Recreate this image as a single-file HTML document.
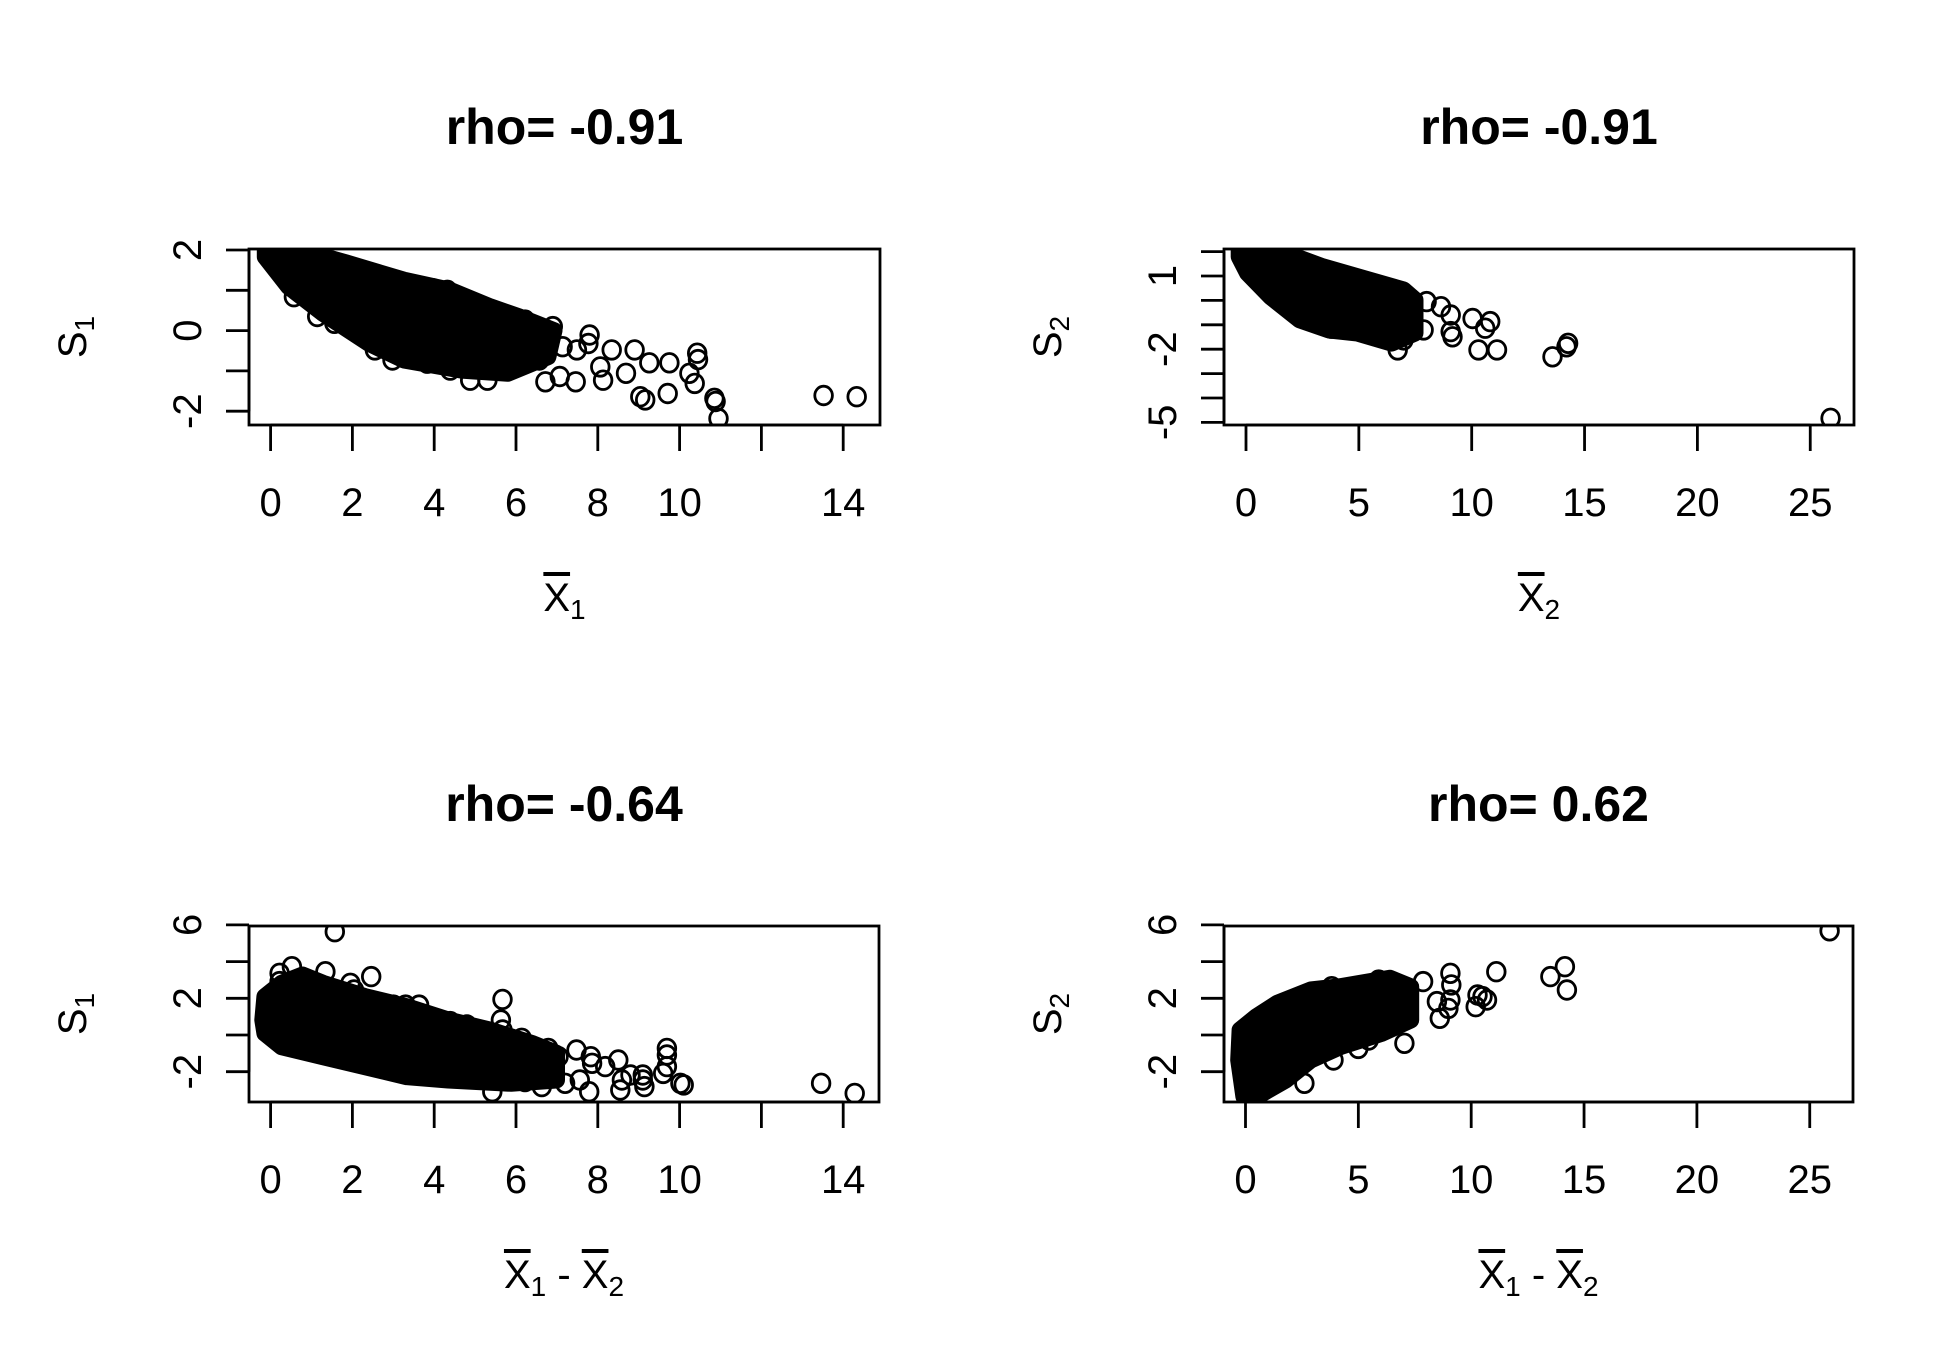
<!DOCTYPE html>
<html><head><meta charset="utf-8"><style>
html,body{margin:0;padding:0;background:#fff;}
svg{display:block;font-family:"Liberation Sans",Arial,sans-serif;}
</style></head><body>
<svg id="fig" width="1950" height="1350" viewBox="0 0 1950 1350" xmlns="http://www.w3.org/2000/svg">
<rect width="1950" height="1350" fill="#fff"/>
</svg>
<script>
// ---------- data (data units) ----------
const p1Titles = "rho= -0.91";
const p1XTicks = [0,2,4,6,8,10,12,14];
const p1XLabels = ["0","2","4","6","8","10","","14"];
const p1YTicks = [-2,-1,0,1,2];
const p1YLabels = ["-2","","0","","2"];
const p1CoreX = [-0.13,0.72,1.85,3.26,4.39,5.37,6.08,6.93,6.78,5.8,4.67,3.26,2.41,1.28,0.44,-0.13];
const p1CoreY = [2.0,2.0,1.68,1.25,1.0,0.59,0.34,0.0,-0.65,-1.06,-0.98,-0.73,-0.32,0.43,1.09,1.83];
const p1PtX = [13.52,14.33,10.95,10.88,10.85,10.43,10.45,10.24,10.37,9.75,9.71,9.26,9.16,9.04,8.90,8.69,8.34,8.13,8.06,7.80,7.77,7.49,7.46,7.14,7.07,6.90,6.72,6.64,6.57,6.22,5.94,5.38,5.30,5.16,4.88,4.39,4.32,3.97,3.83,2.98,2.55,1.56,1.14,0.57];
const p1PtY = [-1.61,-1.64,-2.18,-1.76,-1.68,-0.56,-0.72,-1.06,-1.31,-0.8,-1.56,-0.8,-1.72,-1.64,-0.48,-1.06,-0.48,-1.23,-0.9,-0.11,-0.32,-0.48,-1.27,-0.40,-1.14,0.10,-1.27,-0.07,-0.73,0.26,-0.90,0.51,-1.23,0.59,-1.23,-0.98,1.0,1.04,-0.81,-0.73,-0.48,0.18,0.35,0.84];

const p2XTicks = [0,5,10,15,20,25];
const p2XLabels = ["0","5","10","15","20","25"];
const p2YTicks = [-5,-4,-3,-2,-1,0,1,2];
const p2YLabels = ["-5","","","-2","","","1",""];
const p2CoreX = [-0.3,1.36,3.39,5.43,6.98,7.49,7.49,6.45,4.94,3.66,2.38,1.09,0.07,-0.3];
const p2CoreY = [2.07,2.07,1.38,0.84,0.43,0.02,-1.34,-1.75,-1.34,-1.21,-0.80,0.15,1.12,1.79];
const p2PtX = [25.9,14.27,14.2,13.58,11.12,10.3,10.82,10.6,10.04,9.15,9.07,9.07,8.64,8.0,7.87,6.72,6.98,5.95,5.44,3.78,4.42,4.93];
const p2PtY = [-4.83,-1.76,-1.9,-2.31,-2.03,-2.03,-0.87,-1.14,-0.74,-1.49,-1.28,-0.6,-0.26,-0.05,-1.21,-2.03,-1.62,-1.34,-1.21,-1.14,-0.94,0.84];

const p3XTicks = [0,2,4,6,8,10,12,14];
const p3XLabels = ["0","2","4","6","8","10","","14"];
const p3YTicks = [-2,0,2,4,6];
const p3YLabels = ["-2","","2","","6"];
const p3CoreX = [-0.14,0.27,0.78,1.28,2.31,3.33,4.34,5.36,6.38,6.99,6.99,5.88,4.34,3.33,2.31,1.28,0.27,-0.14,-0.19];
const p3CoreY = [2.09,2.82,3.27,2.82,2.09,1.54,0.82,0.27,-0.45,-1.0,-2.45,-2.63,-2.45,-2.27,-1.73,-1.18,-0.64,0.09,0.82];
const p3PtX = [1.57,0.52,0.22,0.22,1.34,2.46,1.95,2.04,5.67,5.63,5.67,4.80,4.39,3.63,3.30,3.0,6.14,6.51,6.79,7.04,7.48,7.83,7.79,7.56,7.2,6.63,6.22,5.42,8.5,8.55,8.59,8.8,9.1,9.14,9.1,9.6,9.69,9.69,9.69,10.02,10.1,13.46,14.28,8.18,7.86];
const p3PtY = [5.63,3.72,3.36,2.91,3.45,3.18,2.82,2.45,1.94,0.82,0.27,0.55,0.73,1.63,1.63,1.63,-0.18,-0.73,-0.73,-1.18,-0.82,-1.18,-3.09,-2.45,-2.63,-2.81,-2.54,-3.09,-1.36,-3.0,-2.45,-2.18,-2.18,-2.81,-2.45,-2.09,-0.73,-1.09,-1.72,-2.63,-2.72,-2.63,-3.18,-1.72,-1.54];

const p4XTicks = [0,5,10,15,20,25];
const p4XLabels = ["0","5","10","15","20","25"];
const p4YTicks = [-2,0,2,4,6];
const p4YLabels = ["-2","","2","","6"];
const p4CoreX = [-0.24,0.49,1.41,2.89,4.19,6.4,7.32,7.32,6.04,4.19,2.89,1.78,0.49,-0.07,-0.3];
const p4CoreY = [0.27,1.0,1.73,2.45,2.63,3.09,2.63,0.82,0.09,-0.64,-1.36,-2.45,-3.36,-3.36,-1.36];
const p4PtX = [25.88,14.15,13.51,14.24,11.11,10.28,10.7,10.2,10.5,9.08,9.12,9.08,8.99,8.61,8.48,7.87,7.04,5.46,5.0,3.9,2.61,3.82,4.95,5.9];
const p4PtY = [5.68,3.72,3.18,2.45,3.45,2.18,1.91,1.54,2.09,3.36,2.73,1.91,1.45,0.91,1.82,2.91,-0.45,-0.27,-0.73,-1.36,-2.63,2.63,2.63,2.99];

// ---------- drawing ----------
const NS="http://www.w3.org/2000/svg";
const svg=document.getElementById('fig');
function mk(tag,attrs,parent){const e=document.createElementNS(NS,tag);for(const k in attrs)e.setAttribute(k,attrs[k]);(parent||svg).appendChild(e);return e;}

function panel(id,cfg){
  const g=mk('g',{});
  
  
  const sx=v=>cfg.x0+cfg.kx*v, sy=v=>cfg.y0-cfg.ky*v;
  const clip=mk('clipPath',{id:id+'-clip'},g);
  mk('rect',{x:cfg.L,y:cfg.T,width:cfg.R-cfg.L,height:cfg.B-cfg.T},clip);
  const pg=mk('g',{'clip-path':'url(#'+id+'-clip)'},g);
  
  
  let d='';
  cfg.coreX.forEach((v,i)=>{d+=(i?'L':'M')+sx(v).toFixed(1)+','+sy(cfg.coreY[i]).toFixed(1);});
  const core=mk('path',{d:d+'Z',fill:'#000',stroke:'#000','stroke-width':'17','stroke-linejoin':'round'},pg);
  
  
  cfg.ptX.forEach((v,i)=>{
    const c=mk('ellipse',{cx:sx(v).toFixed(1),cy:sy(cfg.ptY[i]).toFixed(1),rx:8.8,ry:9.3,fill:'none',stroke:'#000','stroke-width':2.8},pg);
    
    
  });
  const box=mk('rect',{x:cfg.L,y:cfg.T,width:cfg.R-cfg.L,height:cfg.B-cfg.T,fill:'none',stroke:'#000','stroke-width':2.8},g);
  
  
  const xa=mk('g',{},g);
  
  
  mk('line',{x1:sx(cfg.xt[0]),x2:sx(cfg.xt[cfg.xt.length-1]),y1:cfg.B,y2:cfg.B,stroke:'#000','stroke-width':2.8},xa);
  cfg.xt.forEach((v,i)=>{
    mk('line',{x1:sx(v),x2:sx(v),y1:cfg.B,y2:cfg.B+26,stroke:'#000','stroke-width':2.8},xa);
    if(cfg.xl[i]){const t=mk('text',{x:sx(v),y:cfg.B+91,'text-anchor':'middle','font-size':40},xa);t.textContent=cfg.xl[i];
      
      }
  });
  const ya=mk('g',{},g);
  
  
  mk('line',{x1:cfg.L,x2:cfg.L,y1:sy(cfg.yt[0]),y2:sy(cfg.yt[cfg.yt.length-1]),stroke:'#000','stroke-width':2.8},ya);
  cfg.yt.forEach((v,i)=>{
    mk('line',{x1:cfg.L-23,x2:cfg.L,y1:sy(v),y2:sy(v),stroke:'#000','stroke-width':2.8},ya);
    if(cfg.yl[i]){const lx=cfg.L-62;const t=mk('text',{x:0,y:0,'text-anchor':'middle','font-size':40,transform:'translate('+(lx+14)+','+sy(v)+') rotate(-90)'},ya);t.textContent=cfg.yl[i];
      
      }
  });
  const cx=(cfg.L+cfg.R)/2;
  const tt=mk('text',{x:cx,y:cfg.T-105,'text-anchor':'middle','font-size':50,'font-weight':'bold'},g);
  tt.textContent=cfg.title;
  
  
  const xt=mk('text',{x:cx,y:cfg.B+186,'text-anchor':'middle','font-size':40},g);
  xt.innerHTML=cfg.xtitle;
  
  
  const yt=mk('text',{x:0,y:0,'text-anchor':'middle','font-size':40,transform:'translate('+(cfg.L-163)+','+((cfg.T+cfg.B)/2)+') rotate(-90)'},g);
  yt.innerHTML=cfg.ytitle;
  
  
}
const xb1='<tspan text-decoration="overline">X</tspan><tspan font-size="28" dy="8">1</tspan>';
const xb2='<tspan text-decoration="overline">X</tspan><tspan font-size="28" dy="8">2</tspan>';
const diff='<tspan text-decoration="overline">X</tspan><tspan font-size="28" dy="8">1</tspan><tspan dy="-8"> - </tspan><tspan text-decoration="overline">X</tspan><tspan font-size="28" dy="8">2</tspan>';
const s1='S<tspan font-size="28" dy="8">1</tspan>', s2='S<tspan font-size="28" dy="8">2</tspan>';

panel('panel-top-left',{L:249,R:880,T:249,B:425,x0:270.6,kx:40.9,y0:330.6,ky:40.3,
  xt:p1XTicks,xl:p1XLabels,yt:p1YTicks,yl:p1YLabels,coreX:p1CoreX,coreY:p1CoreY,ptX:p1PtX,ptY:p1PtY,
  title:p1Titles,xtitle:xb1,ytitle:s1});
panel('panel-top-right',{L:1224,R:1854,T:249,B:425,x0:1246,kx:22.57,y0:300.4,ky:24.4,
  xt:p2XTicks,xl:p2XLabels,yt:p2YTicks,yl:p2YLabels,coreX:p2CoreX,coreY:p2CoreY,ptX:p2PtX,ptY:p2PtY,
  title:"rho= -0.91",xtitle:xb2,ytitle:s2});
panel('panel-bottom-left',{L:249,R:879,T:926,B:1102,x0:270.6,kx:40.9,y0:1035,ky:18.35,
  xt:p3XTicks,xl:p3XLabels,yt:p3YTicks,yl:p3YLabels,coreX:p3CoreX,coreY:p3CoreY,ptX:p3PtX,ptY:p3PtY,
  title:"rho= -0.64",xtitle:diff,ytitle:s1});
panel('panel-bottom-right',{L:1224,R:1853,T:926,B:1102,x0:1245.5,kx:22.57,y0:1035,ky:18.35,
  xt:p4XTicks,xl:p4XLabels,yt:p4YTicks,yl:p4YLabels,coreX:p4CoreX,coreY:p4CoreY,ptX:p4PtX,ptY:p4PtY,
  title:"rho= 0.62",xtitle:diff,ytitle:s2});
</script>
</body></html>
